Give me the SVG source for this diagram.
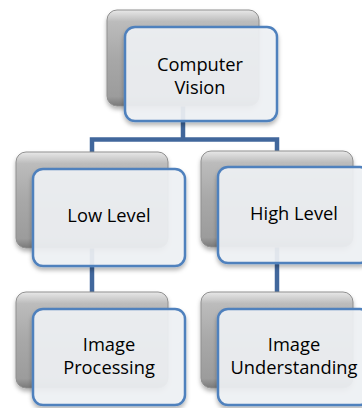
<svg xmlns="http://www.w3.org/2000/svg" width="362" height="408" viewBox="0 0 362 408">
<defs>
<linearGradient id="gray" x1="0" y1="0" x2="0" y2="1">
<stop offset="0" stop-color="#e8e8e8"/>
<stop offset="0.12" stop-color="#bcbcbc"/>
<stop offset="0.5" stop-color="#a8a8a8"/>
<stop offset="0.9" stop-color="#9c9c9c"/>
<stop offset="1" stop-color="#7a7a7a"/>
</linearGradient>
<filter id="sh" x="-20%" y="-20%" width="140%" height="150%">
<feDropShadow dx="0" dy="3" stdDeviation="2" flood-color="#000" flood-opacity="0.3"/>
</filter>
</defs>
<style>
.back{fill:url(#gray);stroke:#8f8f8f;stroke-width:1;filter:url(#sh)}
.front{fill:#f1f3f6;fill-opacity:0.9;stroke:#4f81bd;stroke-width:2.5;filter:url(#sh)}
.conn{fill:none;stroke:#41679c;stroke-width:4.5;stroke-linejoin:miter}
text{font-family:"Open Sans","Liberation Sans",sans-serif;font-size:18.3px;fill:#000;text-anchor:middle}
</style>
<rect width="362" height="408" fill="#fff"/>
<g id="connectors">
<path class="conn" d="M183 105 V139.5 H92 V153 M183 139.5 H277 V153"/>
<path class="conn" d="M92 246 V293"/>
<path class="conn" d="M277 246 V293"/>
</g>
<g id="node-computer-vision">
<rect class="back" x="107" y="10" width="152" height="96" rx="10"/>
<rect class="front" x="125" y="27" width="152" height="94" rx="10"/>
<text x="200" y="71">Computer</text>
<text x="200" y="94">Vision</text>
</g>
<g id="node-low-level">
<rect class="back" x="16" y="152" width="152" height="96" rx="10"/>
<rect class="front" x="33" y="169" width="152" height="97" rx="10"/>
<text x="109" y="222">Low Level</text>
</g>
<g id="node-high-level">
<rect class="back" x="201" y="151" width="152" height="96" rx="10"/>
<rect class="front" x="218" y="167" width="152" height="96" rx="10"/>
<text x="294" y="220">High Level</text>
</g>
<g id="node-image-processing">
<rect class="back" x="16" y="292" width="152" height="96" rx="10"/>
<rect class="front" x="33" y="309" width="152" height="96" rx="10"/>
<text x="109" y="351">Image</text>
<text x="109" y="374">Processing</text>
</g>
<g id="node-image-understanding">
<rect class="back" x="201" y="292" width="152" height="96" rx="10"/>
<rect class="front" x="218" y="309" width="152" height="96" rx="10"/>
<text x="294" y="351">Image</text>
<text x="294" y="374">Understanding</text>
</g>
</svg>
